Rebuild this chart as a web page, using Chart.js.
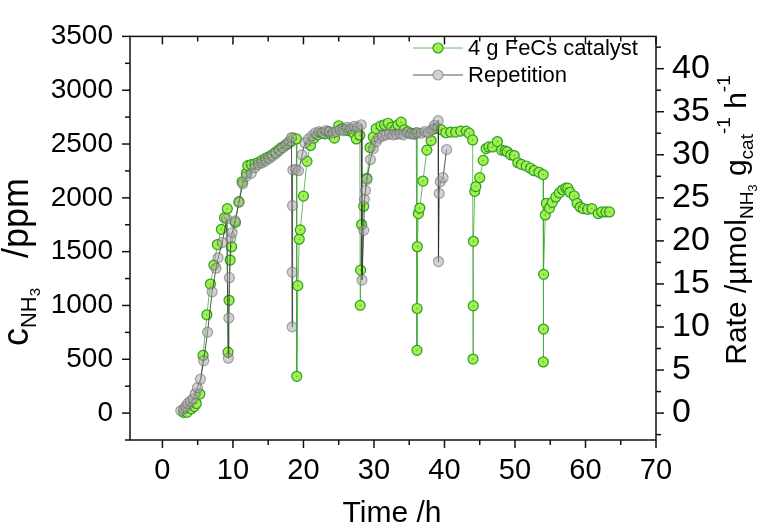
<!DOCTYPE html>
<html>
<head>
<meta charset="utf-8">
<script src="https://cdn.jsdelivr.net/npm/chart.js@4.4.0/dist/chart.umd.min.js"></script>
<style>
  html, body { margin: 0; padding: 0; background: #fff; }
  #wrap { width: 761px; height: 530px; }
</style>
</head>
<body>
<div id="wrap"><canvas id="myChart" width="761" height="530"></canvas></div>
<script>
const FONT = '"Liberation Sans", Arial, sans-serif';

// tick values
const timeTicks = [0, 10, 20, 30, 40, 50, 60, 70];
const concTicks = [0, 500, 1000, 1500, 2000, 2500, 3000, 3500];
const rateTicks = [0, 5, 10, 15, 20, 25, 30, 35, 40];

// 4 g FeCs catalyst: time (h) and NH3 concentration (ppm)
const catTime = [
  3.0, 3.5, 4.1, 4.5, 4.8, 5.3, 5.76, 6.3, 6.8, 7.3, 7.8, 8.35, 8.8, 9.2,
  9.3, 9.45, 9.6, 9.8, 10.35, 10.85, 11.3, 11.9, 12.1, 12.6, 13.1, 13.6, 14.1, 14.6,
  15.0, 15.5, 16.0, 16.5, 16.9, 17.4, 17.8, 18.3, 18.6, 19.0,
  19.05, 19.2, 19.4, 19.55, 20.0, 20.5, 21.0, 21.5, 22.0, 22.5, 23.0, 23.5, 24.0, 24.4,
  25.0, 25.5, 25.9, 26.4, 26.8, 27.2, 27.5, 28.0,
  28.05, 28.1, 28.25, 28.55, 29.0, 29.45, 29.9, 30.3, 31.0, 31.5, 32.0, 32.5, 32.9, 33.4,
  33.85, 34.3, 34.8, 35.3, 35.7, 36.0,
  36.1, 36.12, 36.15, 36.3, 36.5, 36.95, 37.5, 38.1, 38.5, 38.95, 39.5, 40.2, 40.9, 41.6,
  42.3, 43.1, 43.5, 44.0,
  44.05, 44.08, 44.1, 44.3, 44.45, 45.0, 45.5, 45.9, 46.3, 46.8, 47.5, 48.1, 48.6, 48.9,
  49.4, 49.9, 50.4, 50.9, 51.6, 52.2, 52.7, 53.4, 54.0,
  54.02, 54.04, 54.06, 54.3, 54.45, 54.9, 55.3, 55.8, 56.3, 56.75, 57.2, 57.5, 57.8, 58.4,
  58.8, 59.25, 59.7, 60.3, 60.9, 61.8, 62.3, 62.9, 63.4
];
const catConc = [
  7, 7, 39, 61, 89, 177, 536, 913, 1199, 1375, 1566, 1707, 1816, 1899,
  566, 1048, 1422, 1546, 1772, 1964, 2149, 2228, 2299, 2309, 2314, 2329, 2348, 2368,
  2378, 2398, 2422, 2447, 2467, 2486, 2502, 2526, 2555, 2547,
  342, 1184, 1616, 1702, 2016, 2339, 2487, 2555, 2585, 2605, 2595, 2615, 2585, 2555,
  2670, 2644, 2634, 2624, 2620, 2595, 2547, 2582,
  1001, 1328, 1752, 1922, 2181, 2467, 2566, 2643, 2670, 2679, 2693, 2654, 2634, 2679,
  2703, 2634, 2615, 2600, 2595, 2605,
  583, 972, 1546, 1854, 1905, 2156, 2443, 2532, 2640, 2649, 2634, 2605, 2611, 2611,
  2620, 2620, 2600, 2538,
  502, 996, 1596, 2060, 2105, 2187, 2348, 2458, 2473, 2473, 2523, 2443, 2437, 2428,
  2399, 2393, 2326, 2311, 2296, 2275, 2252, 2237, 2216,
  475, 781, 1289, 1841, 1949, 1905, 1958, 2008, 2046, 2075, 2090, 2090, 2052, 2017,
  1949, 1914, 1899, 1893, 1899, 1854, 1869, 1869, 1869
];

// Repetition: time (h) and NH3 concentration (ppm)
const repTime = [
  2.6, 3.0, 3.3, 3.6, 3.95, 4.35, 4.65, 4.96, 5.4, 5.85, 6.4, 7.05, 7.6, 7.9, 8.5, 9.1,
  9.35, 9.42, 9.5, 9.7, 9.9, 10.3, 10.85, 11.4, 11.9, 12.6, 13.1, 13.6, 14.1, 14.6,
  15.1, 15.6, 16.1, 16.6, 17.1, 17.6, 18.0, 18.3,
  18.4, 18.42, 18.45, 18.5, 18.9, 19.3, 19.8, 20.2, 20.7, 21.2, 21.7, 22.2, 22.7, 23.2,
  23.7, 24.2, 24.7, 25.2, 25.7, 26.2, 26.7, 27.2, 27.7, 28.2,
  28.3, 28.55, 28.65, 28.8, 29.0, 29.5, 29.9, 30.3, 30.7, 31.2, 31.7, 32.2, 32.7, 33.2,
  33.7, 34.2, 34.7, 35.2, 35.7, 36.2, 36.7, 37.2, 37.7, 38.2, 38.6, 39.1,
  39.15, 39.25, 39.4, 39.8, 40.3
];
const repConc = [
  21, 36, 61, 90, 110, 133, 179, 236, 315, 486, 751, 1126, 1346, 1443, 1584, 1806,
  510, 884, 1258, 1625, 1678, 1786, 1958, 2131, 2200, 2228, 2281, 2309, 2324, 2343,
  2363, 2388, 2412, 2442, 2467, 2501, 2526, 2560,
  801, 1310, 1928, 2258, 2265, 2252, 2399, 2510, 2545, 2575, 2605, 2615, 2605, 2624,
  2615, 2605, 2615, 2634, 2624, 2654, 2644, 2664, 2654, 2679,
  1236, 1699, 1986, 2069, 2171, 2355, 2457, 2522, 2555, 2575, 2585, 2595, 2585, 2590,
  2595, 2585, 2605, 2595, 2590, 2605, 2600, 2615, 2605, 2634, 2674, 2717,
  1408, 2040, 2149, 2187, 2449
];

const toPoints = (xs, ys) => xs.map((x, i) => ({ x: x, y: ys[i] }));

const catStyle = { line: 'rgba(55,165,45,0.75)', fill: 'rgb(160,240,80)', edge: '#2e9e26' };
const repStyle = { line: 'rgba(45,45,45,0.8)', fill: 'rgba(165,165,165,0.5)', edge: 'rgba(110,110,110,0.6)' };

function richText(ctx, parts, x, y, angle) {
  ctx.save();
  ctx.translate(x, y);
  ctx.rotate(angle);
  ctx.fillStyle = '#000';
  ctx.textBaseline = 'alphabetic';
  let total = 0;
  parts.forEach(p => {
    ctx.font = p.size + 'px ' + FONT;
    p.w = ctx.measureText(p.t).width;
    total += p.w;
  });
  let cx = -total / 2;
  parts.forEach(p => {
    ctx.font = p.size + 'px ' + FONT;
    ctx.fillText(p.t, cx, p.dy || 0);
    cx += p.w;
  });
  ctx.restore();
}

// frame with inner/outer ticks like the original
const framePlugin = {
  id: 'frame',
  afterDraw(chart) {
    const { ctx, chartArea: a, scales } = chart;
    ctx.save();
    ctx.strokeStyle = '#111';
    ctx.lineWidth = 1.5;
    ctx.strokeRect(a.left, a.top, a.right - a.left, a.bottom - a.top);
    const seg = (x1, y1, x2, y2) => { ctx.beginPath(); ctx.moveTo(x1, y1); ctx.lineTo(x2, y2); ctx.stroke(); };

    for (let v = -5; v <= 70; v += 5) {
      const px = scales.x.getPixelForValue(v);
      if (px < a.left - 0.5) continue;
      const len = v % 10 === 0 ? 8 : 5;
      seg(px, a.bottom, px, a.bottom + len);
      seg(px, a.top, px, a.top + len);
    }
    for (let v = -250; v <= 3500; v += 250) {
      const py = scales.y.getPixelForValue(v);
      const len = v % 500 === 0 ? 8 : 5;
      seg(a.left, py, a.left - len, py);
    }
    for (let v = -2.5; v <= 42.5; v += 2.5) {
      const py = scales.y2.getPixelForValue(v);
      const len = v % 5 === 0 ? 8 : 5;
      seg(a.right, py, a.right + len, py);
    }
    ctx.restore();

    // axis titles
    richText(ctx, [
      { t: 'Time /h', size: 30 }
    ], 392, 522, 0);
    richText(ctx, [
      { t: 'c', size: 36 },
      { t: 'NH', size: 22, dy: 8 },
      { t: '3', size: 15, dy: 12 },
      { t: '   /ppm', size: 36 }
    ], 28, 262, -Math.PI / 2);
    richText(ctx, [
      { t: 'Rate /\u00b5mol', size: 30 },
      { t: 'NH', size: 19, dy: 7 },
      { t: '3', size: 13, dy: 11 },
      { t: ' g', size: 30 },
      { t: 'cat', size: 19, dy: 7 },
      { t: '-1', size: 19, dy: -16 },
      { t: ' h', size: 30 },
      { t: '-1', size: 19, dy: -16 }
    ], 746, 220, -Math.PI / 2);

    // legend
    const rows = [
      { label: '4 g FeCs catalyst', st: catStyle, y: 48 },
      { label: 'Repetition', st: repStyle, y: 75 }
    ];
    ctx.save();
    rows.forEach(r => {
      ctx.strokeStyle = r.st.line;
      ctx.lineWidth = 1;
      seg(413, r.y, 463, r.y);
      ctx.beginPath();
      ctx.arc(438, r.y, 5, 0, Math.PI * 2);
      ctx.fillStyle = '#fff';
      ctx.fill();
      ctx.fillStyle = r.st.fill;
      ctx.fill();
      ctx.strokeStyle = r.st.edge;
      ctx.lineWidth = 1.2;
      ctx.stroke();
      ctx.fillStyle = '#000';
      ctx.font = '22px ' + FONT;
      ctx.textBaseline = 'middle';
      ctx.fillText(r.label, 468, r.y + 1);
    });
    ctx.restore();
  }
};

// small centre dot inside every marker
const dotPlugin = {
  id: 'dots',
  afterDatasetsDraw(chart) {
    const ctx = chart.ctx;
    ctx.save();
    ctx.fillStyle = 'rgba(30,90,20,0.8)';
    chart.getDatasetMeta(0).data.forEach(pt => {
      ctx.fillRect(pt.x - 0.5, pt.y - 0.5, 1, 1);
    });
    ctx.restore();
  }
};

const plain = v => String(v);

new Chart(document.getElementById('myChart').getContext('2d'), {
  type: 'scatter',
  data: {
    datasets: [
      {
        label: '4 g FeCs catalyst',
        data: toPoints(catTime, catConc),
        yAxisID: 'y',
        showLine: true,
        borderColor: catStyle.line,
        borderWidth: 1,
        pointRadius: 5,
        pointBackgroundColor: catStyle.fill,
        pointBorderColor: catStyle.edge,
        pointBorderWidth: 1.2,
        order: 2
      },
      {
        label: 'Repetition',
        data: toPoints(repTime, repConc),
        yAxisID: 'y',
        showLine: true,
        borderColor: repStyle.line,
        borderWidth: 1,
        pointRadius: 5,
        pointBackgroundColor: repStyle.fill,
        pointBorderColor: repStyle.edge,
        pointBorderWidth: 1.2,
        order: 1
      }
    ]
  },
  options: {
    responsive: false,
    animation: false,
    layout: { padding: { top: 15, left: 0, right: 0, bottom: 0 } },
    plugins: { legend: { display: false }, tooltip: { enabled: false } },
    scales: {
      x: {
        type: 'linear', position: 'bottom', min: -4.6, max: 70,
        grid: { display: false, drawTicks: false }, border: { display: false },
        afterBuildTicks: s => { s.ticks = timeTicks.map(v => ({ value: v })); },
        afterFit: s => { s.height = 90; },
        ticks: { color: '#000', padding: 14, maxRotation: 0, callback: plain, font: { family: FONT, size: 29 } }
      },
      y: {
        type: 'linear', position: 'left', min: -250, max: 3500,
        grid: { display: false, drawTicks: false }, border: { display: false },
        afterBuildTicks: s => { s.ticks = concTicks.map(v => ({ value: v })); },
        afterFit: s => { s.width = 130; },
        ticks: { color: '#000', padding: 17, callback: plain, font: { family: FONT, size: 28 } }
      },
      y2: {
        type: 'linear', position: 'right', min: -3.125, max: 43.75,
        grid: { display: false, drawTicks: false }, border: { display: false },
        afterBuildTicks: s => { s.ticks = rateTicks.map(v => ({ value: v })); },
        afterFit: s => { s.width = 105; },
        ticks: { color: '#000', padding: 16, callback: plain, font: { family: FONT, size: 34 } }
      }
    }
  },
  plugins: [framePlugin, dotPlugin]
});
</script>
</body>
</html>
